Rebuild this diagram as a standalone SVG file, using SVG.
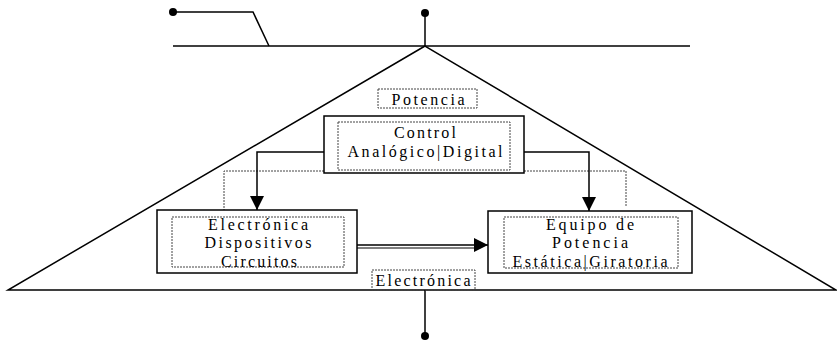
<svg xmlns="http://www.w3.org/2000/svg" width="837" height="341" viewBox="0 0 837 341">
<style>
.solid{fill:none;stroke:#000;stroke-width:1.5}
.box{fill:#fff;stroke:#000;stroke-width:1.5}
.dash{fill:none;stroke:#444;stroke-width:1;stroke-dasharray:2 1}
.conn{fill:none;stroke:#000;stroke-width:1.5}
.t{font-family:"Liberation Serif",serif;font-size:16px;fill:#000;text-anchor:middle}
</style>
<defs>
<marker id="ah2" viewBox="0 0 10 10" refX="10" refY="5" markerWidth="14" markerHeight="14" markerUnits="userSpaceOnUse" orient="auto">
<path d="M0,0 L10,5 L0,10 Z" fill="#000"/>
</marker>
</defs>
<rect width="837" height="341" fill="#fff"/>
<g id="frame">
<circle cx="173" cy="12" r="4" fill="#000"/>
<polyline class="solid" points="173,12 253,12 269,46"/>
<line class="solid" x1="173" y1="46" x2="690" y2="46"/>
<circle cx="425" cy="13" r="4" fill="#000"/>
<line class="solid" x1="425" y1="13" x2="425" y2="46"/>
<polygon class="solid" points="425,46 8,290 836,290"/>
<line class="solid" x1="425" y1="290" x2="425" y2="335"/>
<circle cx="425" cy="336" r="4" fill="#000"/>
</g>
<g id="connectors">
<polyline class="dash" points="324,171 224,171 224,210"/>
<polyline class="dash" points="524,171 626,171 626,207"/>
<polyline class="conn" points="324,152 257,152 257,210" marker-end="url(#ah2)"/>
<polyline class="conn" points="524,152 589,152 589,211" marker-end="url(#ah2)"/>
<line x1="357" y1="245" x2="488" y2="245" stroke="#000" stroke-width="1.5" marker-end="url(#ah2)"/>
<line x1="357" y1="248" x2="480" y2="248" stroke="#000" stroke-width="1"/>
</g>
<g id="potencia">
<rect class="dash" x="378" y="89" width="99" height="19"/>
<text class="t" x="428" y="104.5" textLength="73" lengthAdjust="spacing">Potencia</text>
</g>
<g id="control">
<rect class="box" x="324" y="116" width="200" height="57"/>
<rect class="dash" x="338" y="122" width="172" height="48"/>
<text class="t" x="425" y="137.5" textLength="62" lengthAdjust="spacing">Control</text>
<text class="t" x="425" y="156.5" textLength="155" lengthAdjust="spacing">Analógico|Digital</text>
</g>
<g id="electronica-box">
<rect class="box" x="157" y="210" width="200" height="63"/>
<rect class="dash" x="172" y="217" width="172" height="50"/>
<text class="t" x="258" y="229.5" textLength="100" lengthAdjust="spacing">Electrónica</text>
<text class="t" x="258" y="248" textLength="107" lengthAdjust="spacing">Dispositivos</text>
<text class="t" x="259" y="266.5" textLength="76" lengthAdjust="spacing">Circuitos</text>
</g>
<g id="equipo">
<rect class="box" x="488" y="211" width="204" height="62"/>
<rect class="dash" x="504" y="217" width="174" height="51"/>
<text class="t" x="590" y="229.5" textLength="88" lengthAdjust="spacing">Equipo de</text>
<text class="t" x="590" y="248" textLength="76" lengthAdjust="spacing">Potencia</text>
<text class="t" x="590" y="266.5" textLength="155" lengthAdjust="spacing">Estática|Giratoria</text>
</g>
<g id="electronica-label">
<rect class="dash" x="372" y="270" width="103" height="20"/>
<text class="t" x="423" y="286" textLength="95" lengthAdjust="spacing">Electrónica</text>
</g>
</svg>
